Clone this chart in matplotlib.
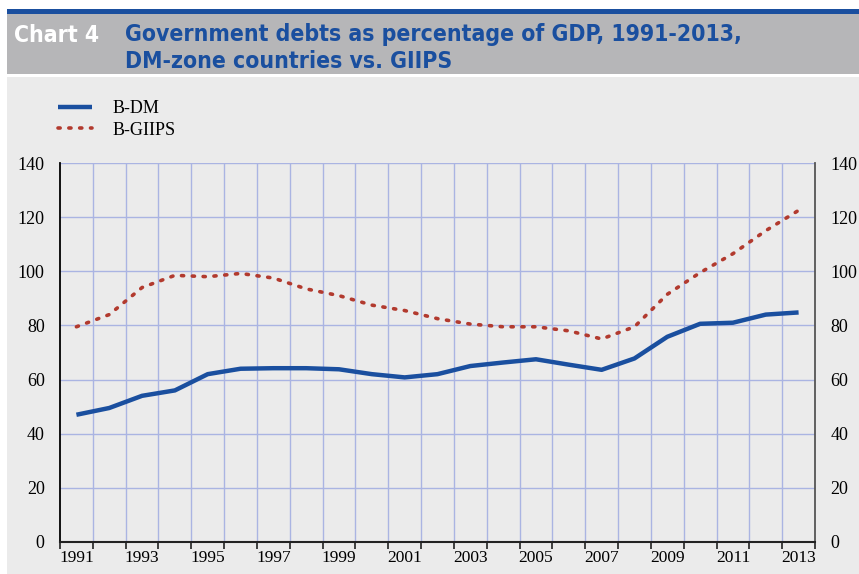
import numpy as np
import matplotlib
matplotlib.use('Agg')
import matplotlib.pyplot as plt
from matplotlib.patches import Rectangle

# -- data
years = list(range(1991, 2014))
b_dm = [47, 49.5, 54, 56, 62, 64, 64.2, 64.2, 63.8, 62, 60.8, 62, 65, 66.3, 67.5,
        65.5, 63.6, 67.8, 75.8, 80.6, 81, 84, 84.8]
b_giips = [79.5, 84, 94, 98.5, 98, 99.2, 97.5, 93.5, 91, 87.5, 85.5, 82.5, 80.5, 79.5,
           79.5, 78, 75, 79.5, 91.5, 99.5, 106.5, 115, 122.5]
y_ticks = [0, 20, 40, 60, 80, 100, 120, 140]
year_labels = [str(y) for y in years[::2]]

W, H = 859, 574
blue = '#1a4f9f'
red = '#b23a2e'
grid_col = '#aab4e2'
bg = '#ebebeb'

fig = plt.figure(figsize=(W / 100, H / 100), dpi=100, facecolor='white')

# -- header bands (figure pixel coords -> fractions)
def band(x0, y0, x1, y1, color):
    fig.patches.append(Rectangle((x0 / W, 1 - y1 / H), (x1 - x0) / W, (y1 - y0) / H,
                                 transform=fig.transFigure, facecolor=color,
                                 edgecolor='none', zorder=-10))

band(7, 9, W, 14, '#1a4f9f')
band(7, 14, W, 74, '#b6b6b8')
band(7, 77, W, H, bg)

title_font = dict(family='DejaVu Sans', fontweight='bold', fontsize=16.5,
                  fontstretch='condensed')
fig.text(14 / W, 1 - 35 / H, 'Chart 4', color='white', va='center', ha='left', **title_font)
fig.text(125 / W, 1 - 35 / H, 'Government debts as percentage of GDP, 1991-2013,',
         color=blue, va='center', ha='left', **title_font)
fig.text(125 / W, 1 - 61 / H, 'DM-zone countries vs. GIIPS',
         color=blue, va='center', ha='left', **title_font)

# -- axes
ax_l, ax_r, ax_t, ax_b = 60, 815, 163, 542
ax = fig.add_axes([ax_l / W, 1 - ax_b / H, (ax_r - ax_l) / W, (ax_b - ax_t) / H])
ax.set_facecolor(bg)

x = np.arange(len(years))
ax.plot(x, b_dm, color=blue, lw=3.2, solid_capstyle='butt', zorder=3, label='B-DM')
ax.plot(x, b_giips, color=red, lw=2.6, linestyle=(0, (0.6, 2.4)), dash_capstyle='round',
        zorder=3, label='B-GIIPS')

ax.set_xlim(-0.5, len(years) - 0.5)
ax.set_ylim(0, 140)

# grid lines
for b in np.arange(0.5, len(years) - 0.5):
    ax.axvline(b, color=grid_col, lw=1, zorder=1)
for yv in y_ticks[1:]:
    ax.axhline(yv, color=grid_col, lw=1, zorder=1)

# x ticks at category boundaries, labels under every other year
ax.set_xticks(np.arange(-0.5, len(years)))
ax.set_xticklabels([])
ax.tick_params(axis='x', which='major', direction='out', length=5, width=1.2, color='#222222')
ax.set_xticks(x[::2], minor=True)
ax.set_xticklabels(year_labels, minor=True, family='Liberation Serif', fontsize=12.5)
ax.tick_params(axis='x', which='minor', length=0, pad=6)

ax.set_yticks(y_ticks)
ax.set_yticklabels([str(v) for v in y_ticks], family='Liberation Serif', fontsize=13)
ax.tick_params(axis='y', length=0, pad=11, labelright=True, labelleft=True)

ax.spines['top'].set_visible(False)
ax.spines['left'].set_color('black')
ax.spines['left'].set_linewidth(1.3)
ax.spines['right'].set_color('#555555')
ax.spines['right'].set_linewidth(1.3)
ax.spines['bottom'].set_color('#222222')
ax.spines['bottom'].set_linewidth(1.5)

leg = fig.legend(loc='upper left', bbox_to_anchor=(58 / W, 1 - 100 / H), frameon=False,
                 prop={'family': 'Liberation Serif', 'size': 13}, handlelength=1.9,
                 handletextpad=1.1, labelspacing=0.25, borderpad=0, borderaxespad=0)

fig.savefig('out.png', dpi=100, facecolor='white')
